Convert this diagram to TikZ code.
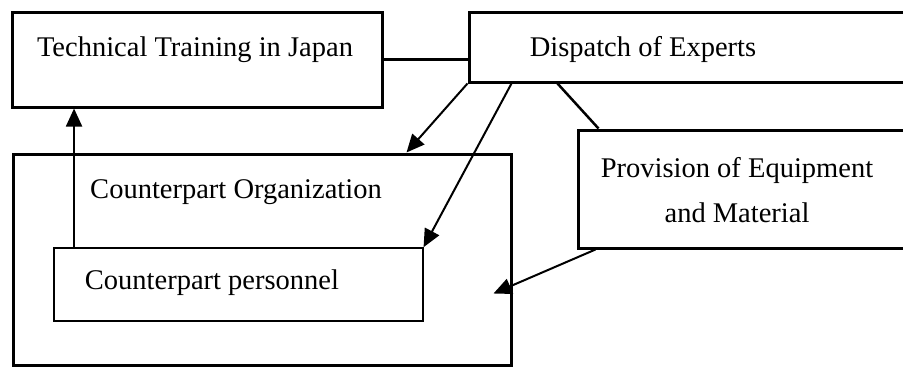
\documentclass[tikz,border=0pt]{standalone}
\usepackage{fontspec}
\setmainfont{Liberation Serif}
\usetikzlibrary{arrows.meta}
\begin{document}
\begin{tikzpicture}[x=1pt,y=-1pt,
  box/.style={draw=black, line width=3pt, rectangle, inner sep=0pt},
  thinbox/.style={draw=black, line width=1.5pt, rectangle, inner sep=0pt},
  txt/.style={inner sep=0pt, font=\fontsize{28.5}{45}\selectfont, align=center},
  arr/.style={line width=2pt, -{Triangle[length=18pt,width=16pt]}},
  con/.style={line width=2.5pt}]
\useasboundingbox[fill=white] (0,0) rectangle (903,367);
\clip (0,0) rectangle (903,367);
% boxes
\node[box, minimum width=370pt, minimum height=95pt] (train) at (197,59.5) {};
\node[txt] (traint) at (195,50) {Technical Training in Japan};
\node[box, minimum width=446pt, minimum height=70pt] (disp) at (692,47) {};
\node[txt] (dispt) at (643,49) {Dispatch of Experts};
\node[box, minimum width=337pt, minimum height=118pt] (prov) at (746.5,189) {};
\node[txt] (provt) at (737,190) {Provision of Equipment\\and Material};
\node[box, minimum width=498pt, minimum height=211pt] (org) at (262,259.5) {};
\node[txt] (orgt) at (236,192) {Counterpart Organization};
\node[thinbox, fill=white, minimum width=369pt, minimum height=73pt] (pers) at (238.3,284.5) {};
\node[txt] (perst) at (212,283) {Counterpart personnel};
% connectors
\draw[con] (train.east) -- (train.east -| disp.west);
\draw[arr] ([xshift=21pt]pers.north west) -- ([xshift=21pt]pers.north west |- train.south);
\draw[arr] (disp.south west) -- ([xshift=-106pt]org.north east);
\draw[arr] ([xshift=44pt]disp.south west) -- (pers.north east);
\draw[con] ([xshift=90pt]disp.south west) -- ([xshift=22pt]prov.north west);
\draw[arr] ([xshift=19pt]prov.south west) -- ([xshift=-19pt,yshift=-141pt]org.north east);
\end{tikzpicture}
\end{document}
